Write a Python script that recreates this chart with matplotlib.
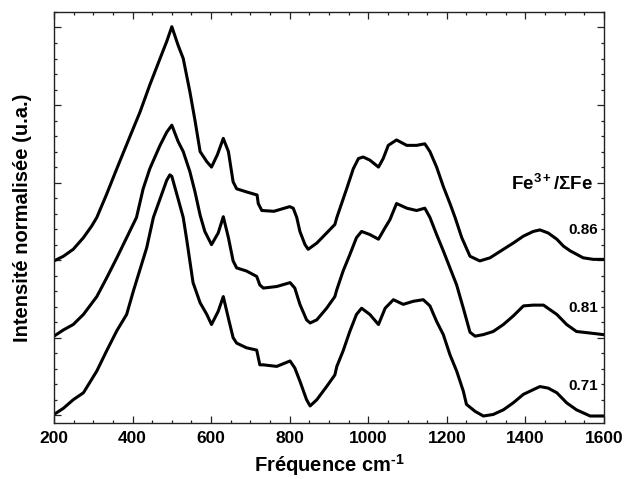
import matplotlib
matplotlib.use("Agg")
import matplotlib.pyplot as plt
from matplotlib.ticker import MultipleLocator, NullFormatter

plt.rcParams['font.family'] = ['Liberation Sans', 'DejaVu Sans']
plt.rcParams['font.weight'] = 'bold'
plt.rcParams['mathtext.fontset'] = 'custom'
plt.rcParams['mathtext.rm'] = 'Liberation Sans:bold'
plt.rcParams['mathtext.it'] = 'Liberation Sans:bold'
plt.rcParams['mathtext.bf'] = 'Liberation Sans:bold'
plt.rcParams['mathtext.default'] = 'regular'

# Fe3+/SumFe = 0.86 (top spectrum)
freq_086 = [200, 224, 249, 275, 296, 309, 334, 360, 393, 419, 444, 470, 487, 500,
            516, 529, 546, 559, 572, 589, 601, 616, 631, 644, 656, 665, 690, 717, 720,
            729, 760, 800, 809, 818, 826, 839, 847, 869, 894, 915, 920, 945, 962, 975,
            987, 1004, 1026, 1038, 1051, 1072, 1098, 1123, 1144, 1157, 1174, 1191,
            1208, 1221, 1238, 1259, 1284, 1310, 1344, 1369, 1395, 1420, 1437, 1458,
            1480, 1497, 1514, 1547, 1573, 1598]
int_086 = [1.99, 2.05, 2.14, 2.29, 2.44, 2.55, 2.85, 3.18, 3.59, 3.91, 4.26, 4.60, 4.82, 5.01,
           4.77, 4.60, 4.17, 3.80, 3.40, 3.27, 3.20, 3.36, 3.57, 3.40, 3.01, 2.92, 2.88, 2.84, 2.73,
           2.64, 2.63, 2.69, 2.67, 2.55, 2.37, 2.20, 2.14, 2.22, 2.35, 2.46, 2.55, 2.92, 3.18, 3.31,
           3.33, 3.29, 3.20, 3.31, 3.48, 3.55, 3.48, 3.48, 3.50, 3.40, 3.20, 2.95,
           2.73, 2.55, 2.29, 2.05, 1.99, 2.03, 2.14, 2.22, 2.31, 2.37, 2.39, 2.35,
           2.27, 2.18, 2.12, 2.03, 2.01, 2.01]

# Fe3+/SumFe = 0.81 (middle spectrum)
freq_081 = [200, 224, 249, 275, 309, 334, 360, 385, 410, 427, 444, 470, 487, 500,
            516, 529, 546, 559, 572, 584, 601, 618, 631, 644, 656, 665, 690, 716, 724,
            733, 767, 801, 813, 826, 843, 852, 869, 894, 915, 920, 936, 953, 970, 983,
            1004, 1026, 1043, 1055, 1072, 1098, 1123, 1144, 1157, 1174, 1191, 1208,
            1225, 1242, 1259, 1272, 1293, 1318, 1344, 1369, 1395, 1420, 1446, 1463,
            1480, 1505, 1530, 1565, 1598]
int_081 = [1.02, 1.10, 1.17, 1.30, 1.53, 1.77, 2.03, 2.29, 2.55, 2.92, 3.18, 3.48, 3.65, 3.74,
           3.53, 3.40, 3.14, 2.88, 2.58, 2.37, 2.20, 2.35, 2.56, 2.29, 1.99, 1.90, 1.86, 1.79, 1.68,
           1.64, 1.66, 1.71, 1.64, 1.43, 1.23, 1.19, 1.23, 1.38, 1.53, 1.62, 1.86, 2.07, 2.29, 2.37,
           2.33, 2.27, 2.42, 2.52, 2.73, 2.67, 2.64, 2.67, 2.55, 2.33, 2.12, 1.90,
           1.68, 1.38, 1.07, 1.02, 1.04, 1.08, 1.17, 1.28, 1.41, 1.42, 1.42, 1.36,
           1.30, 1.17, 1.08, 1.06, 1.04]

# Fe3+/SumFe = 0.71 (bottom spectrum)
freq_071 = [200, 224, 249, 275, 309, 334, 360, 385, 402, 436, 453, 470, 487, 495,
            500, 516, 529, 538, 554, 572, 589, 601, 618, 631, 644, 656, 665, 690, 716,
            724, 733, 767, 801, 813, 826, 843, 852, 869, 894, 915, 920, 936, 953, 970,
            983, 1004, 1026, 1043, 1064, 1089, 1115, 1140, 1157, 1174, 1191, 1208,
            1225, 1242, 1250, 1272, 1293, 1318, 1344, 1369, 1395, 1420, 1437, 1458,
            1480, 1505, 1530, 1565, 1598]
int_071 = [0.01, 0.09, 0.20, 0.29, 0.57, 0.83, 1.09, 1.30, 1.60, 2.16, 2.55, 2.79, 3.03, 3.10,
           3.08, 2.79, 2.55, 2.26, 1.71, 1.45, 1.30, 1.17, 1.34, 1.53, 1.25, 1.00, 0.93, 0.87, 0.84,
           0.65, 0.65, 0.63, 0.70, 0.61, 0.44, 0.20, 0.12, 0.20, 0.37, 0.52, 0.63, 0.83, 1.08, 1.30,
           1.38, 1.30, 1.17, 1.38, 1.49, 1.43, 1.47, 1.49, 1.41, 1.21, 1.04, 0.78,
           0.57, 0.31, 0.14, 0.05, -0.01, 0.01, 0.07, 0.16, 0.27, 0.33, 0.37, 0.35,
           0.29, 0.16, 0.07, -0.01, -0.01]

ratio_labels = ["0.86", "0.81", "0.71"]
legend_title = "Fe$^{3+}$/\u03a3Fe"
xlabel = "Fréquence cm$^{\u2010 1}$"
ylabel = "Intensité normalisée (u.a.)"

fig = plt.figure(figsize=(6.24, 4.79), dpi=100)
ax = fig.add_axes([0.0865, 0.1169, 0.8814, 0.8581])

for fx, fy in [(freq_086, int_086), (freq_081, int_081), (freq_071, int_071)]:
    ax.plot(fx, fy, color='black', lw=2.2, solid_joinstyle='round')

ax.set_xlim(200, 1600)
ax.set_ylim(-0.1, 5.2)
ax.xaxis.set_major_locator(MultipleLocator(200))
ax.xaxis.set_minor_locator(MultipleLocator(50))
ax.yaxis.set_major_locator(MultipleLocator(1))
ax.yaxis.set_minor_locator(MultipleLocator(0.2))
ax.yaxis.set_major_formatter(NullFormatter())
ax.tick_params(which='both', direction='in', top=True, right=True, width=0.9, color='#222222')
ax.tick_params(which='major', length=5)
ax.tick_params(which='minor', length=2.3)
ax.tick_params(axis='x', labelsize=12.5, pad=6)
for lab in ax.get_xticklabels():
    lab.set_fontweight('bold')
for sp in ax.spines.values():
    sp.set_linewidth(1.0)
    sp.set_color('#222222')

ax.set_xlabel(xlabel, fontsize=14.5, fontweight='bold', labelpad=4)
ax.set_ylabel(ylabel, fontsize=14.5, fontweight='bold', labelpad=12)

ax.text(0.98, 0.582, legend_title, transform=ax.transAxes, ha='right', va='center',
        fontsize=13.5, fontweight='bold')
for lab, yy in zip(ratio_labels, [0.470, 0.280, 0.090]):
    ax.text(0.989, yy, lab, transform=ax.transAxes, ha='right', va='center',
            fontsize=11, fontweight='bold')

fig.savefig("out.png", dpi=100)
